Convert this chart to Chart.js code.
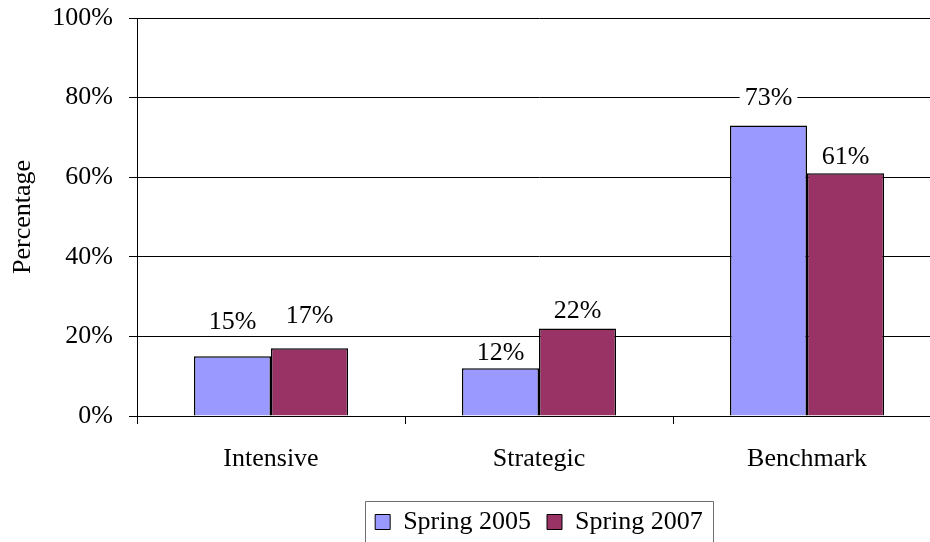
<!DOCTYPE html>
<html>
<head>
<meta charset="utf-8">
<script src="https://cdn.jsdelivr.net/npm/chart.js@4/dist/chart.umd.min.js"></script>
<style>
  html, body { margin: 0; padding: 0; background: #fff; overflow: hidden; }
  #wrap { width: 950px; height: 542px; position: relative; }
</style>
</head>
<body>
<div id="wrap"><canvas id="c" width="950" height="542"></canvas></div>
<script>
const categories = ['Intensive', 'Strategic', 'Benchmark'];
const seriesNames = ['Spring 2005', 'Spring 2007'];
const spring2005 = [15, 12, 73];
const spring2007 = [17, 22, 61];
const yTicks = [0, 20, 40, 60, 80, 100];

const FONT = '"Liberation Serif", "Times New Roman", serif';

const labelPlugin = {
  id: 'barLabels',
  afterDatasetsDraw(chart, args, opts) {
    const ctx = chart.ctx;
    const gaps = opts.gaps || [];
    ctx.save();
    ctx.font = '26px ' + FONT;
    ctx.textAlign = 'center';
    ctx.textBaseline = 'middle';
    chart.data.datasets.forEach((ds, di) => {
      const meta = chart.getDatasetMeta(di);
      meta.data.forEach((bar, i) => {
        const txt = ds.data[i] + '%';
        const w = ctx.measureText(txt).width;
        const gap = (gaps[di] && gaps[di][i] != null) ? gaps[di][i] : 28;
        const cy = bar.y - gap;
        ctx.fillStyle = '#fff';
        ctx.fillRect(bar.x - w / 2 - 5, cy - 13, w + 10, 23);
        ctx.fillStyle = '#000';
        ctx.fillText(txt, bar.x, cy);
      });
    });
    ctx.restore();
  }
};

const legendFrame = {
  id: 'legendFrame',
  afterDraw(chart) {
    const lg = chart.legend;
    if (!lg || !lg.legendHitBoxes || !lg.legendHitBoxes.length) return;
    const hb = lg.legendHitBoxes;
    const first = hb[0], last = hb[hb.length - 1];
    const left = first.left - 10;
    const right = last.left + last.width + 10;
    const cy = first.top + first.height / 2;
    const ctx = chart.ctx;
    ctx.save();
    ctx.strokeStyle = '#6e6e6e';
    ctx.lineWidth = 1;
    ctx.beginPath();
    ctx.moveTo(Math.round(left) + 0.5, 560);
    ctx.lineTo(Math.round(left) + 0.5, Math.round(cy - 21) + 0.5);
    ctx.lineTo(Math.round(right) + 0.5, Math.round(cy - 21) + 0.5);
    ctx.lineTo(Math.round(right) + 0.5, 560);
    ctx.stroke();
    ctx.restore();
  }
};

new Chart(document.getElementById('c'), {
  type: 'bar',
  data: {
    labels: categories,
    datasets: [
      { label: seriesNames[0], data: spring2005, backgroundColor: '#9999FF', borderColor: '#000', borderWidth: 1.5 },
      { label: seriesNames[1], data: spring2007, backgroundColor: '#993366', borderColor: '#000', borderWidth: 1.5 }
    ]
  },
  options: {
    responsive: false,
    animation: false,
    devicePixelRatio: 1,
    layout: { padding: { top: 18, right: 9, bottom: -3, left: 0 } },
    datasets: { bar: { barPercentage: 1, categoryPercentage: 0.575 } },
    plugins: {
      barLabels: { gaps: [[34, 15, 27], [32, 17, 16]] },
      legend: {
        position: 'bottom',
        fullSize: false,
        labels: {
          color: '#000',
          font: { family: FONT, size: 26 },
          boxWidth: 15,
          boxHeight: 15,
          padding: 16,
          generateLabels(chart) {
            return chart.data.datasets.map((ds, i) => ({
              text: ds.label,
              fillStyle: ds.backgroundColor,
              strokeStyle: '#000',
              lineWidth: 1,
              datasetIndex: i
            }));
          }
        }
      },
      tooltip: { enabled: false }
    },
    scales: {
      x: {
        offset: true,
        grid: { display: true, drawOnChartArea: false, offset: true, color: '#000', tickLength: 8 },
        border: { display: true, color: '#000', width: 1 },
        ticks: { color: '#000', font: { family: FONT, size: 26 }, padding: 19.5, maxRotation: 0 },
        afterFit(s) { s.height = 77; }
      },
      y: {
        min: 0,
        max: 100,
        afterBuildTicks(s) { s.ticks = yTicks.map(v => ({ value: v })); },
        grid: { color: '#000', tickLength: 8 },
        border: { display: true, color: '#000', width: 1 },
        ticks: { color: '#000', font: { family: FONT, size: 26 }, padding: 16, callback: v => v + '%' },
        title: { display: true, text: 'Percentage', color: '#000', font: { family: FONT, size: 26 }, padding: { top: 8, bottom: 0 } },
        afterFit(s) { s.width = 137; s.paddingTop = 0; s.paddingBottom = 0; }
      }
    }
  },
  plugins: [labelPlugin, legendFrame]
});
</script>
</body>
</html>
